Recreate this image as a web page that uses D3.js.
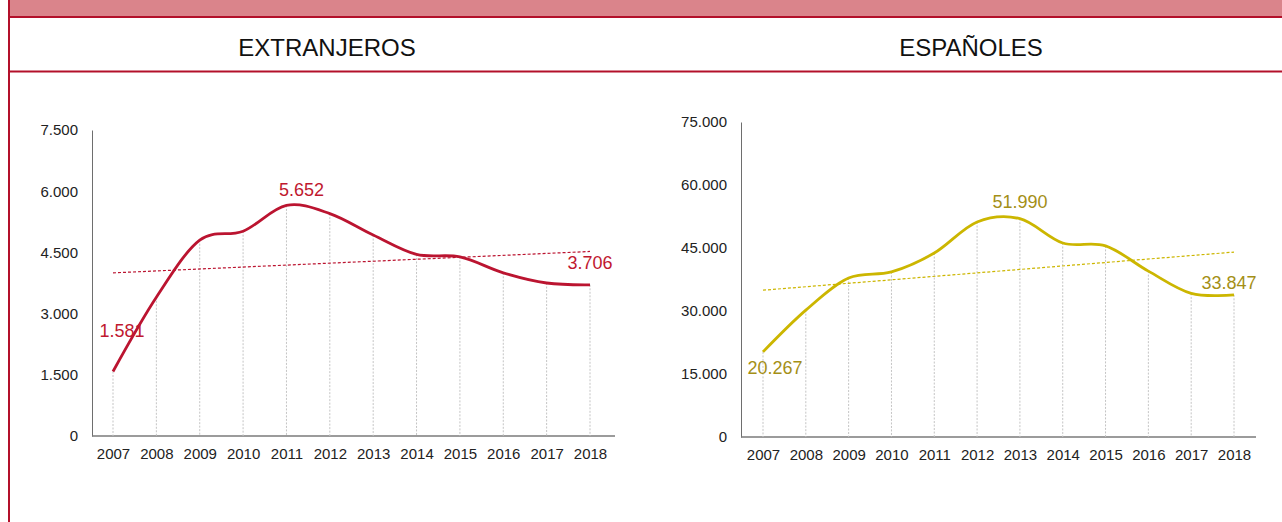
<!DOCTYPE html>
<html>
<head>
<meta charset="utf-8">
<script src="https://cdn.jsdelivr.net/npm/d3@7"></script>
<style>
  html, body { margin: 0; padding: 0; background: #ffffff; }
  svg { display: block; font-family: "Liberation Sans", Arial, sans-serif; }
</style>
</head>
<body>
<svg id="chart" width="1282" height="522"></svg>
<script>
// Yearly series
const years = [2007, 2008, 2009, 2010, 2011, 2012, 2013, 2014, 2015, 2016, 2017, 2018];
const extranjeros = [1581, 3400, 4800, 5020, 5652, 5450, 4925, 4450, 4390, 4000, 3750, 3706];
const espanoles = [20267, 30200, 37850, 39300, 43800, 51200, 51990, 46200, 45500, 39500, 34200, 33847];

// Axis ticks
const ticksExtranjeros = [0, 1500, 3000, 4500, 6000, 7500];
const ticksEspanoles = [0, 15000, 30000, 45000, 60000, 75000];

// Points that carry a value label (indices into years)
const labelledExtranjeros = [0, 4, 11];
const labelledEspanoles = [0, 6, 11];

// Panel headings
const headings = ["EXTRANJEROS", "ESPAÑOLES"];

const es = d3.formatLocale({ decimal: ",", thousands: ".", grouping: [3], currency: ["", " €"] });
const fmt = es.format(",d");

const svg = d3.select("#chart");

// Header band and frame rules
svg.append("rect").attr("x", 10).attr("y", 0).attr("width", 1272).attr("height", 16).attr("fill", "#da848b");
svg.append("line").attr("x1", 9).attr("x2", 1282).attr("y1", 17).attr("y2", 17)
  .attr("stroke", "#b3102a").attr("stroke-width", 2);
svg.append("line").attr("x1", 9).attr("x2", 1282).attr("y1", 71.5).attr("y2", 71.5)
  .attr("stroke", "#b3102a").attr("stroke-width", 2);
svg.append("line").attr("x1", 9).attr("x2", 9).attr("y1", 0).attr("y2", 522)
  .attr("stroke", "#b3102a").attr("stroke-width", 2);

const panels = [
  {
    heading: headings[0], headX: 327,
    values: extranjeros, ticks: ticksExtranjeros, labelled: labelledExtranjeros,
    xRange: [113, 590], axisX: [92, 615], yRange: [436, 130],
    line: "#bb1430", label: "#c0182f",
    labelOffsets: { 0: [9, -34], 4: [15, -9], 11: [0, -16] }
  },
  {
    heading: headings[1], headX: 971,
    values: espanoles, ticks: ticksEspanoles, labelled: labelledEspanoles,
    xRange: [763, 1234], axisX: [741, 1256], yRange: [437, 122],
    line: "#ccb600", label: "#a48f16",
    labelOffsets: { 0: [12, 22], 6: [0, -11], 11: [-5, -6] }
  }
];

panels.forEach(p => {
  const g = svg.append("g");

  g.append("text").attr("x", p.headX).attr("y", 56).attr("text-anchor", "middle")
    .attr("font-size", 24).attr("fill", "#111").text(p.heading);

  const x = d3.scalePoint().domain(years).range(p.xRange);
  const y = d3.scaleLinear().domain([0, d3.max(p.ticks)]).range(p.yRange);

  // Y axis
  const yAxis = d3.axisLeft(y).tickValues(p.ticks).tickFormat(fmt).tickSize(0).tickPadding(14);
  const ya = g.append("g").attr("transform", `translate(${p.axisX[0]},0)`).call(yAxis);
  ya.select(".domain").attr("stroke", "#6e6e6e").attr("stroke-width", 1);
  ya.selectAll("text").attr("font-size", 15).attr("fill", "#222")
    .attr("font-family", "Liberation Sans, Arial, sans-serif");

  // X axis
  const xAxis = d3.axisBottom(x).tickSize(0).tickPadding(12);
  const xa = g.append("g").attr("transform", `translate(0,${p.yRange[0]})`).call(xAxis);
  xa.select(".domain").attr("d", `M${p.axisX[0]},0H${p.axisX[1]}`)
    .attr("stroke", "#7a7a7a").attr("stroke-width", 1.6);
  xa.selectAll("text").attr("font-size", 15).attr("fill", "#222")
    .attr("font-family", "Liberation Sans, Arial, sans-serif");

  // Drop lines from each point to the axis
  g.append("g").selectAll("line").data(p.values).join("line")
    .attr("x1", (d, i) => x(years[i])).attr("x2", (d, i) => x(years[i]))
    .attr("y1", d => y(d)).attr("y2", p.yRange[0])
    .attr("stroke", "#c4c4c4").attr("stroke-width", 1).attr("stroke-dasharray", "2,1.5");

  // Linear trend (least squares)
  const n = p.values.length;
  const mx = d3.mean(years), my = d3.mean(p.values);
  let sxy = 0, sxx = 0;
  years.forEach((yr, i) => { sxy += (yr - mx) * (p.values[i] - my); sxx += (yr - mx) ** 2; });
  const slope = sxy / sxx, icpt = my - slope * mx;
  const trend = [years[0], years[n - 1]].map(yr => [yr, icpt + slope * yr]);
  g.append("path").datum(trend)
    .attr("d", d3.line().x(d => x(d[0])).y(d => y(d[1])))
    .attr("fill", "none").attr("stroke", p.line).attr("stroke-width", 1.2)
    .attr("stroke-dasharray", "3,2");

  // Smoothed series line
  g.append("path").datum(p.values)
    .attr("d", d3.line().x((d, i) => x(years[i])).y(d => y(d)).curve(d3.curveCardinal.tension(0)))
    .attr("fill", "none").attr("stroke", p.line).attr("stroke-width", 2.8)
    .attr("stroke-linejoin", "round").attr("stroke-linecap", "butt");

  // Value labels
  g.append("g").selectAll("text").data(p.labelled).join("text")
    .attr("x", i => x(years[i]) + p.labelOffsets[i][0])
    .attr("y", i => y(p.values[i]) + p.labelOffsets[i][1])
    .attr("text-anchor", "middle").attr("font-size", 18).attr("fill", p.label)
    .text(i => fmt(p.values[i]));
});
</script>
</body>
</html>
